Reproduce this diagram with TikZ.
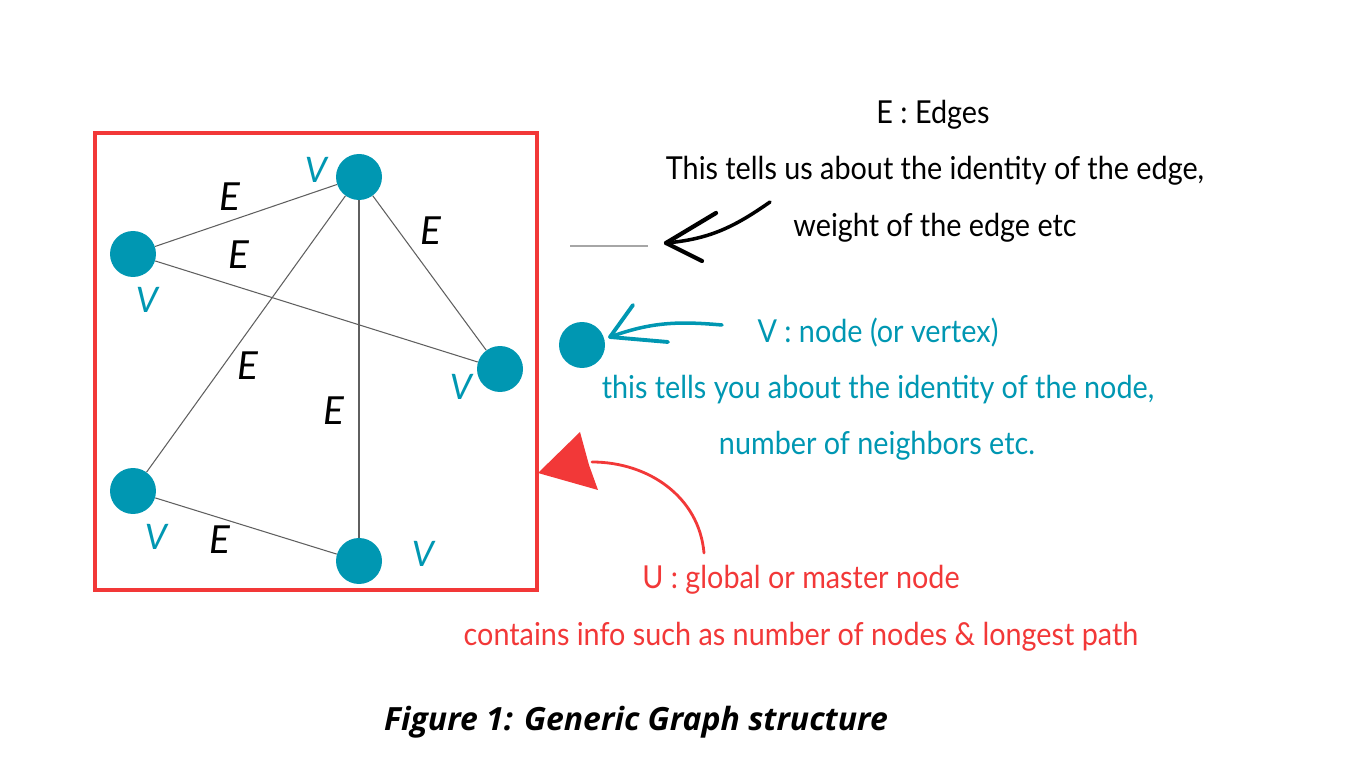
\documentclass[tikz,border=0pt]{standalone}
\usepackage{fontspec}
\setmainfont{Lato}
\newfontfamily\handfont{Lato}[FakeStretch=0.91]
\newfontfamily\capfont{Open Sans}
\usetikzlibrary{positioning}
\definecolor{vteal}{RGB}{0,151,178}
\definecolor{ured}{RGB}{242,56,56}
\definecolor{edgegray}{RGB}{95,95,95}

\begin{document}
\begin{tikzpicture}[x=0.02cm,y=-0.02cm,
    vertex/.style={circle,fill=vteal,minimum size=0.92cm,inner sep=0pt},
    elabel/.style={font=\fontsize{22}{24}\selectfont\itshape,text=black},
    vlabel/.style={font=\fontsize{20}{22}\selectfont\itshape,text=vteal},
    hand/.style={font=\handfont\fontsize{18}{20}\selectfont},
    link/.style={edgegray,line width=0.6pt}]
    \useasboundingbox (0,0) rectangle (1371,759);

    % Master node box
    \draw[ured,line width=2.2pt] (95,133) rectangle (537,590);

    % Vertices
    \node[vertex] (vtop)   at (359,177) {};
    \node[vertex] (vleft)  at (133,254) {};
    \node[vertex] (vright) at (500,369) {};
    \node[vertex] (vlow)   at (133,491) {};
    \node[vertex] (vbot)   at (359,561) {};

    % Edges
    \draw[link] (vleft) -- (vtop);
    \draw[link] (vleft) -- (vright);
    \draw[link] (vtop) -- (vright);
    \draw[link] (vtop) -- (vlow);
    \draw[link] (vtop) -- (vbot);
    \draw[link] (vlow) -- (vbot);

    % Edge labels
    \node[elabel] (e1) at (230,197) {E};
    \node[elabel] (e2) at (239,255) {E};
    \node[elabel] (e3) at (431,231) {E};
    \node[elabel] (e4) at (248,366) {E};
    \node[elabel] (e5) at (334,411) {E};
    \node[elabel] (e6) at (220,540) {E};

    % Vertex labels
    \node[vlabel] (l1) at (316,170) {V};
    \node[vlabel] (l2) at (147,300) {V};
    \node[vlabel] (l3) at (461,387) {V};
    \node[vlabel] (l4) at (156,537) {V};
    \node[vlabel] (l5) at (423,554) {V};

    % Legend: edges
    \node[hand] (edgetitle) at (933,115) {E : Edges};
    \node[hand] (edgeinfo1) at (935,171) {This tells us about the identity of the edge,};
    \node[hand] (edgeinfo2) at (935,228) {weight of the edge etc};
    \coordinate (elinea) at (570,246);
    \coordinate (elineb) at (648,246);
    \draw[gray!70,line width=0.7pt] (elinea) -- (elineb);
    \coordinate (etail) at (770,202);
    \coordinate (etip) at (666,243);
    \draw[black,line width=2pt,line cap=round] (etail) to[out=215,in=5] (etip);
    \draw[black,line width=2.4pt,line cap=round] (etip) -- ++(50,-30);
    \draw[black,line width=2.4pt,line cap=round] (etip) -- ++(36,18);

    % Legend: vertex
    \node[vertex] (vlegend) at (582,345) {};
    \node[hand,text=vteal] (vtitle) at (878,333) {V : node (or vertex)};
    \node[hand,text=vteal] (vinfo1) at (878,390) {this tells you about the identity of the node,};
    \node[hand,text=vteal] (vinfo2) at (877,446) {number of neighbors etc.};
    \coordinate (vtail) at (722,325);
    \coordinate (vtip) at (610,337);
    \draw[vteal,line width=2pt,line cap=round] (vtail) to[out=175,in=20] (vtip);
    \draw[vteal,line width=2.2pt,line cap=round] (vtip) -- ++(23,-32);
    \draw[vteal,line width=2.2pt,line cap=round] (vtip) -- ++(58,5);

    % Legend: master node
    \node[hand,text=ured] (utitle) at (801,580) {U : global or master node};
    \node[hand,text=ured] (uinfo) at (801,637) {contains info such as number of nodes \& longest path};
    \coordinate (utail) at (704,553);
    \coordinate (ubend) at (592,462);
    \coordinate (utip) at (538,473);
    \draw[ured,line width=1.6pt,line cap=round] (utail) to[out=95,in=0] (ubend);
    \fill[ured] (utip) -- (580,432) -- (589,465) -- (598,490) -- cycle;

    % Caption
    \node[font=\capfont\bfseries\itshape\fontsize{18.2}{21}\selectfont] (caption) at (636,722)
      {Figure 1: Generic Graph structure};
\end{tikzpicture}
\end{document}
